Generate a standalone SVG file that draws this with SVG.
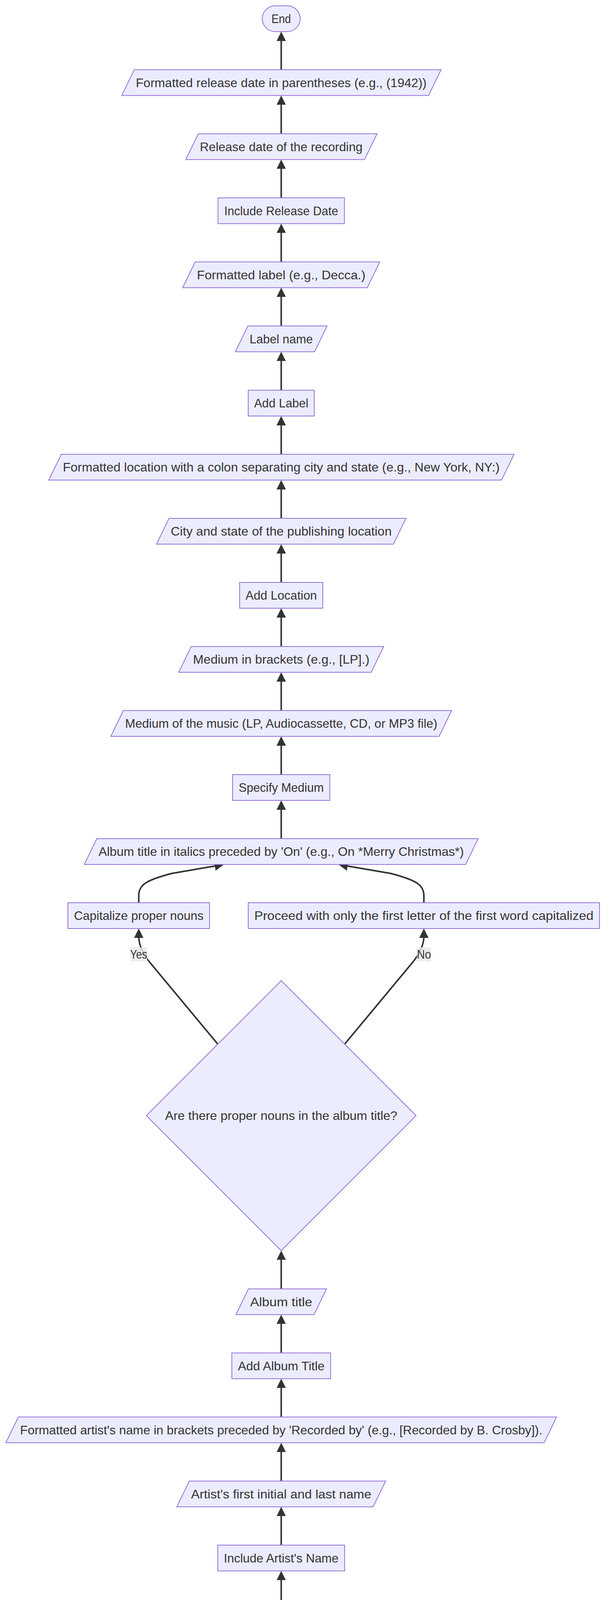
<svg xmlns="http://www.w3.org/2000/svg" width="1568" height="6638" viewBox="0 0 1568 6638">
<defs>
<style>
.node rect, .node polygon { fill: #ECECFF; stroke: #9370DB; stroke-width: 2; }
.node text, .elabel text { font-family: "Liberation Sans", Arial, "DejaVu Sans", sans-serif; font-size: 32px; fill: #333333; text-anchor: middle; }
.edge { fill: none; stroke: #333333; stroke-width: 4; }
.elabel rect { fill: #E8E8E8; fill-opacity: 0.8; }
</style>
<marker id="arr" viewBox="0 0 10 10" refX="5.83" refY="5" markerUnits="userSpaceOnUse" markerWidth="24" markerHeight="24" orient="auto">
<path d="M0,0 L10,5 L0,10 z" fill="#333333"/>
</marker>
</defs>
<rect x="0" y="0" width="1568" height="6638" fill="#FFFFFF"/>

<g id="connectors">
<path class="edge" marker-end="url(#arr)" d="M720.5,178.5 L720.5,91"/>
<path class="edge" marker-end="url(#arr)" d="M720.5,342.5 L720.5,254.5"/>
<path class="edge" marker-end="url(#arr)" d="M720.5,506.5 L720.5,418.5"/>
<path class="edge" marker-end="url(#arr)" d="M720.5,670.5 L720.5,582.5"/>
<path class="edge" marker-end="url(#arr)" d="M720.5,834.5 L720.5,746.5"/>
<path class="edge" marker-end="url(#arr)" d="M720.5,999 L720.5,910.5"/>
<path class="edge" marker-end="url(#arr)" d="M720.5,1163 L720.5,1075"/>
<path class="edge" marker-end="url(#arr)" d="M720.5,1327 L720.5,1239"/>
<path class="edge" marker-end="url(#arr)" d="M720.5,1491 L720.5,1403"/>
<path class="edge" marker-end="url(#arr)" d="M720.5,1655 L720.5,1567"/>
<path class="edge" marker-end="url(#arr)" d="M720.5,1819 L720.5,1731"/>
<path class="edge" marker-end="url(#arr)" d="M720.5,1983 L720.5,1895"/>
<path class="edge" marker-end="url(#arr)" d="M720.5,2147 L720.5,2059"/>
<path class="edge" marker-end="url(#arr)" d="M355.5,2311 L355.5,2293 C355.5,2265 375,2253 440,2236 L564.1,2214.7"/>
<path class="edge" marker-end="url(#arr)" d="M1086,2311 L1086,2293 C1086,2265 1066,2253 1001,2236 L876.9,2214.7"/>
<path class="edge" marker-end="url(#arr)" d="M558,2673 L385,2465 C370,2447 357,2425 355.5,2400 L355.5,2387"/>
<path class="edge" marker-end="url(#arr)" d="M883,2673 L1056,2465 C1071,2447 1084.5,2425 1086,2400 L1086,2387"/>
<path class="edge" marker-end="url(#arr)" d="M720.5,3299.5 L720.5,3211.5"/>
<path class="edge" marker-end="url(#arr)" d="M720.5,3463.5 L720.5,3375.5"/>
<path class="edge" marker-end="url(#arr)" d="M720.5,3627.5 L720.5,3539.5"/>
<path class="edge" marker-end="url(#arr)" d="M720.5,3791.5 L720.5,3703.5"/>
<path class="edge" marker-end="url(#arr)" d="M720.5,3955.5 L720.5,3867.5"/>
<path class="edge" marker-end="url(#arr)" d="M720.5,4119.5 L720.5,4031.5"/>
<path class="edge" marker-end="url(#arr)" d="M355.5,4283.5 L355.5,4265.5 C355.5,4237.5 375,4225.5 440,4208.5 L564.1,4187.2"/>
<path class="edge" marker-end="url(#arr)" d="M1086,4283.5 L1086,4265.5 C1086,4237.5 1066,4225.5 1001,4208.5 L876.9,4187.2"/>
<path class="edge" marker-end="url(#arr)" d="M571,4632.5 L385,4437.5 C370,4419.5 357,4397.5 355.5,4372.5 L355.5,4359.5"/>
<path class="edge" marker-end="url(#arr)" d="M870,4632.5 L1056,4437.5 C1071,4419.5 1084.5,4397.5 1086,4372.5 L1086,4359.5"/>
<path class="edge" marker-end="url(#arr)" d="M720.5,5176 L720.5,5088"/>
<path class="edge" marker-end="url(#arr)" d="M720.5,5340 L720.5,5252"/>
<path class="edge" marker-end="url(#arr)" d="M720.5,5504 L720.5,5416"/>
<path class="edge" marker-end="url(#arr)" d="M720.5,5668 L720.5,5580"/>
<path class="edge" marker-end="url(#arr)" d="M720.5,5832 L720.5,5744"/>
<path class="edge" marker-end="url(#arr)" d="M720.5,5996 L720.5,5908"/>
<path class="edge" marker-end="url(#arr)" d="M720.5,6160 L720.5,6072"/>
<path class="edge" marker-end="url(#arr)" d="M720.5,6324 L720.5,6236"/>
<path class="edge" marker-end="url(#arr)" d="M720.5,6488 L720.5,6400"/>
</g>

<g id="edge-labels">
<g class="elabel" id="label-yes-1"><rect x="333.3" y="2425" width="44" height="36"/><text x="355.3" y="2454" textLength="44" lengthAdjust="spacingAndGlyphs">Yes</text></g>
<g class="elabel" id="label-no-1"><rect x="1068.3" y="2425" width="36" height="36"/><text x="1086.3" y="2454" textLength="36" lengthAdjust="spacingAndGlyphs">No</text></g>
<g class="elabel" id="label-yes-2"><rect x="333.3" y="4397.5" width="44" height="36"/><text x="355.3" y="4426.5" textLength="44" lengthAdjust="spacingAndGlyphs">Yes</text></g>
<g class="elabel" id="label-no-2"><rect x="1068.3" y="4397.5" width="36" height="36"/><text x="1086.3" y="4426.5" textLength="36" lengthAdjust="spacingAndGlyphs">No</text></g>
</g>

<g id="nodes">
<g class="node" id="end"><rect x="672" y="15" width="97" height="66" rx="33" ry="33"/><text x="720.5" y="59" textLength="50" lengthAdjust="spacingAndGlyphs">End</text></g>
<g class="node" id="formatted-release-date"><polygon points="344,178.5 1130,178.5 1098,244.5 312,244.5"/><text x="720.5" y="222.5" textLength="745" lengthAdjust="spacingAndGlyphs">Formatted release date in parentheses (e.g., (1942))</text></g>
<g class="node" id="release-date"><polygon points="508,342.5 966,342.5 934,408.5 476,408.5"/><text x="720.5" y="386.5" textLength="417" lengthAdjust="spacingAndGlyphs">Release date of the recording</text></g>
<g class="node" id="include-release-date"><rect x="558.5" y="506.5" width="324" height="66"/><text x="720.5" y="550.5" textLength="292" lengthAdjust="spacingAndGlyphs">Include Release Date</text></g>
<g class="node" id="formatted-label"><polygon points="500,670.5 973,670.5 941,736.5 468,736.5"/><text x="720.5" y="714.5" textLength="432" lengthAdjust="spacingAndGlyphs">Formatted label (e.g., Decca.)</text></g>
<g class="node" id="label-name"><polygon points="635,834.5 838,834.5 806,900.5 603,900.5"/><text x="720.5" y="878.5" textLength="162" lengthAdjust="spacingAndGlyphs">Label name</text></g>
<g class="node" id="add-label"><rect x="636" y="999" width="169" height="66"/><text x="720.5" y="1043" textLength="139" lengthAdjust="spacingAndGlyphs">Add Label</text></g>
<g class="node" id="formatted-location"><polygon points="157,1163 1317,1163 1285,1229 125,1229"/><text x="720.5" y="1207" textLength="1119" lengthAdjust="spacingAndGlyphs">Formatted location with a colon separating city and state (e.g., New York, NY:)</text></g>
<g class="node" id="city-state"><polygon points="433,1327 1040,1327 1008,1393 401,1393"/><text x="720.5" y="1371" textLength="566" lengthAdjust="spacingAndGlyphs">City and state of the publishing location</text></g>
<g class="node" id="add-location"><rect x="614" y="1491" width="213" height="66"/><text x="720.5" y="1535" textLength="183" lengthAdjust="spacingAndGlyphs">Add Location</text></g>
<g class="node" id="medium-brackets"><polygon points="490,1655 983,1655 951,1721 458,1721"/><text x="720.5" y="1699" textLength="452" lengthAdjust="spacingAndGlyphs">Medium in brackets (e.g., [LP].)</text></g>
<g class="node" id="medium-music"><polygon points="316,1819 1157,1819 1125,1885 284,1885"/><text x="720.5" y="1863" textLength="800" lengthAdjust="spacingAndGlyphs">Medium of the music (LP, Audiocassette, CD, or MP3 file)</text></g>
<g class="node" id="specify-medium"><rect x="596" y="1983" width="249" height="66"/><text x="720.5" y="2027" textLength="218" lengthAdjust="spacingAndGlyphs">Specify Medium</text></g>
<g class="node" id="album-title-italics"><polygon points="248,2147 1225,2147 1193,2213 216,2213"/><text x="720.5" y="2191" textLength="936" lengthAdjust="spacingAndGlyphs">Album title in italics preceded by 'On' (e.g., On *Merry Christmas*)</text></g>
<g class="node" id="capitalize-proper-1"><rect x="174" y="2311" width="363" height="66"/><text x="355.5" y="2355" textLength="332" lengthAdjust="spacingAndGlyphs">Capitalize proper nouns</text></g>
<g class="node" id="proceed-1"><rect x="636" y="2311" width="900" height="66"/><text x="1086" y="2355" textLength="869" lengthAdjust="spacingAndGlyphs">Proceed with only the first letter of the first word capitalized</text></g>
<g class="node" id="decision-album"><polygon points="720.5,2510.5 1066,2856 720.5,3201.5 375,2856"/><text x="720.5" y="2867" textLength="595" lengthAdjust="spacingAndGlyphs">Are there proper nouns in the album title?</text></g>
<g class="node" id="album-title"><polygon points="636.5,3299.5 836.5,3299.5 804.5,3365.5 604.5,3365.5"/><text x="720.5" y="3343.5" textLength="159" lengthAdjust="spacingAndGlyphs">Album title</text></g>
<g class="node" id="add-album-title"><rect x="594" y="3463.5" width="253" height="66"/><text x="720.5" y="3507.5" textLength="222" lengthAdjust="spacingAndGlyphs">Add Album Title</text></g>
<g class="node" id="formatted-artist"><polygon points="47,3627.5 1426,3627.5 1394,3693.5 15,3693.5"/><text x="720.5" y="3671.5" textLength="1338" lengthAdjust="spacingAndGlyphs">Formatted artist's name in brackets preceded by 'Recorded by' (e.g., [Recorded by B. Crosby]).</text></g>
<g class="node" id="artist-initial"><polygon points="485,3791.5 988,3791.5 956,3857.5 453,3857.5"/><text x="720.5" y="3835.5" textLength="462" lengthAdjust="spacingAndGlyphs">Artist's first initial and last name</text></g>
<g class="node" id="include-artist"><rect x="558" y="3955.5" width="325" height="66"/><text x="720.5" y="3999.5" textLength="294" lengthAdjust="spacingAndGlyphs">Include Artist's Name</text></g>
<g class="node" id="capitalized-title"><polygon points="432,4119.5 1041,4119.5 1009,4185.5 400,4185.5"/><text x="720.5" y="4163.5" textLength="568" lengthAdjust="spacingAndGlyphs">Capitalized title (e.g., White Christmas)</text></g>
<g class="node" id="capitalize-proper-2"><rect x="174" y="4283.5" width="363" height="66"/><text x="355.5" y="4327.5" textLength="332" lengthAdjust="spacingAndGlyphs">Capitalize proper nouns</text></g>
<g class="node" id="proceed-2"><rect x="636" y="4283.5" width="900" height="66"/><text x="1086" y="4327.5" textLength="869" lengthAdjust="spacingAndGlyphs">Proceed with only the first letter of the first word capitalized</text></g>
<g class="node" id="decision-title"><polygon points="720.5,4483 1018,4780.5 720.5,5078 423,4780.5"/><text x="720.5" y="4791.5" textLength="500" lengthAdjust="spacingAndGlyphs">Are there proper nouns in the title?</text></g>
<g class="node" id="title-song"><polygon points="600,5176 873,5176 841,5242 568,5242"/><text x="720.5" y="5220" textLength="232" lengthAdjust="spacingAndGlyphs">Title of the song</text></g>
<g class="node" id="capitalize-title"><rect x="529" y="5340" width="383" height="66"/><text x="720.5" y="5384" textLength="352" lengthAdjust="spacingAndGlyphs">Capitalize Title Correctly</text></g>
<g class="node" id="formatted-copyright"><polygon points="431,5504 1042,5504 1010,5570 399,5570"/><text x="720.5" y="5548" textLength="570" lengthAdjust="spacingAndGlyphs">Formatted copyright year (e.g., (1940).)</text></g>
<g class="node" id="year-composer"><polygon points="308,5668 1165,5668 1133,5734 276,5734"/><text x="720.5" y="5712" textLength="816" lengthAdjust="spacingAndGlyphs">The year the composer first wrote and published the song</text></g>
<g class="node" id="add-copyright"><rect x="572" y="5832" width="297" height="66"/><text x="720.5" y="5876" textLength="266" lengthAdjust="spacingAndGlyphs">Add Copyright Year</text></g>
<g class="node" id="formatted-composer"><polygon points="402,5996 1072,5996 1040,6062 370,6062"/><text x="720.5" y="6040" textLength="629" lengthAdjust="spacingAndGlyphs">Formatted composer's name (e.g., Berlin, I.)</text></g>
<g class="node" id="composer-name"><polygon points="427,6160 1047,6160 1015,6226 395,6226"/><text x="720.5" y="6204" textLength="579" lengthAdjust="spacingAndGlyphs">Composer's full last name and first initial</text></g>
<g class="node" id="write-composer"><rect x="541" y="6324" width="360" height="66"/><text x="720.5" y="6368" textLength="329" lengthAdjust="spacingAndGlyphs">Write Composer's Name</text></g>
<g class="node" id="start"><rect x="664" y="6488" width="114" height="66" rx="33" ry="33"/><text x="721" y="6532" textLength="68" lengthAdjust="spacingAndGlyphs">Start</text></g>
</g>
</svg>
